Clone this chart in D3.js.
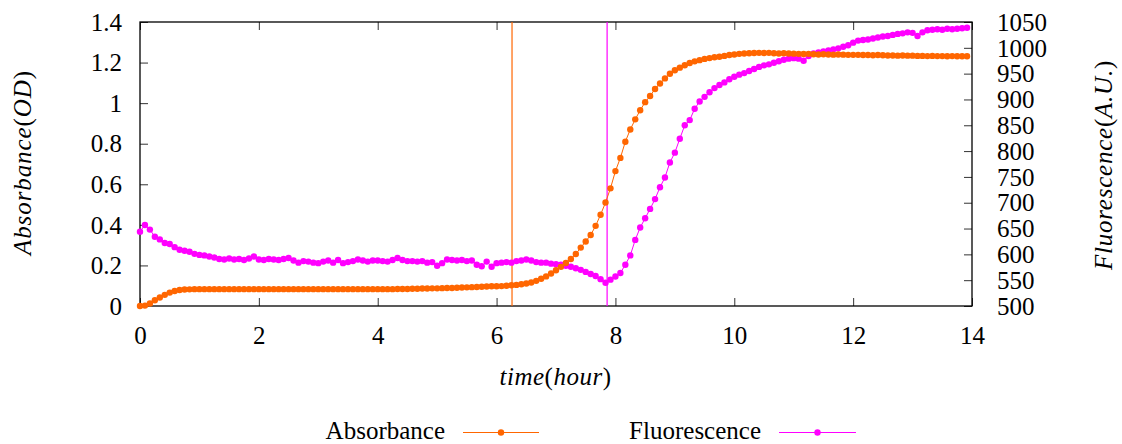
<!DOCTYPE html>
<html>
<head>
<meta charset="utf-8">
<script src="https://cdn.jsdelivr.net/npm/d3@7"></script>
<style>
html,body{margin:0;padding:0;background:#fff;}
svg text{font-family:"Liberation Serif","Times New Roman","DejaVu Serif",serif;fill:#000;}
</style>
</head>
<body>
<svg id="chart" width="1122" height="444"></svg>
<script>
// Sampling interval of the measurements (hours) — one reading every 5 minutes
const sampleStep = 5 / 60;

// Absorbance (OD), one value per sample starting at t = 0
const absorbance = [
  0.000,0.002,0.012,0.028,0.042,0.055,0.066,0.074,0.079,0.081,0.082,0.083,
  0.083,0.083,0.083,0.083,0.083,0.083,0.083,0.083,0.083,0.083,0.083,0.083,
  0.083,0.083,0.083,0.083,0.083,0.083,0.083,0.083,0.083,0.083,0.083,0.083,
  0.083,0.083,0.083,0.083,0.083,0.083,0.083,0.083,0.083,0.083,0.083,0.083,
  0.083,0.083,0.083,0.083,0.084,0.084,0.084,0.085,0.085,0.086,0.086,0.087,
  0.087,0.088,0.089,0.089,0.090,0.091,0.092,0.093,0.094,0.095,0.096,0.097,
  0.097,0.098,0.100,0.102,0.104,0.107,0.111,0.116,0.124,0.134,0.146,0.160,
  0.176,0.193,0.212,0.232,0.256,0.288,0.318,0.350,0.395,0.450,0.510,0.580,
  0.665,0.730,0.810,0.870,0.920,0.965,1.005,1.035,1.070,1.097,1.122,1.145,
  1.162,1.175,1.187,1.198,1.206,1.212,1.218,1.222,1.226,1.229,1.233,1.237,
  1.240,1.243,1.245,1.246,1.247,1.248,1.247,1.248,1.246,1.245,1.246,1.245,
  1.244,1.243,1.242,1.243,1.241,1.240,1.241,1.240,1.239,1.240,1.239,1.238,
  1.238,1.238,1.237,1.237,1.236,1.237,1.236,1.235,1.235,1.234,1.235,1.234,
  1.234,1.233,1.233,1.232,1.233,1.232,1.232,1.231,1.232,1.231,1.231,1.231
];

// Fluorescence (A.U.), one value per sample starting at t = 0
const fluorescence = [
  644,657,648,634,629,622,620,614,609,607,605,601,
  599,598,596,594,591,590,592,590,591,589,592,596,
  590,589,591,590,589,591,593,588,584,587,586,584,
  583,586,588,584,589,583,585,587,590,588,586,588,
  588,587,586,589,593,589,587,587,586,587,584,585,
  578,583,590,589,588,589,587,588,580,577,586,576,
  583,584,585,584,587,588,590,588,585,584,584,582,
  581,580,578,576,573,570,566,562,558,552,545,551,
  557,564,580,598,628,652,670,688,707,730,749,778,
  797,824,850,860,882,896,905,914,922,928,933,939,
  944,948,951,955,959,963,966,968,971,974,977,979,
  980,979,975,984,989,991,993,995,997,999,1002,1005,
  1010,1014,1015,1016,1018,1020,1022,1023,1025,1027,1028,1030,
  1029,1023,1030,1034,1035,1036,1035,1037,1036,1037,1038,1039
];

// Marker lines (hours)
const markerAbs = 6.26;
const markerFluo = 7.86;

// Axis ticks
const xTicks = [0, 2, 4, 6, 8, 10, 12, 14];
const yTicks = [0, 0.2, 0.4, 0.6, 0.8, 1, 1.2, 1.4];
const y2Ticks = [500, 550, 600, 650, 700, 750, 800, 850, 900, 950, 1000, 1050];

// Legend labels
const seriesNames = ["Absorbance", "Fluorescence"];

const colAbs = "#ff6600";
const colFluo = "#ff00ff";

const svg = d3.select("#chart");
const L = 140, R = 972, T = 22, B = 306;
const fs = 25;
const FONT = '"Liberation Serif","Times New Roman",serif';

const x = d3.scaleLinear().domain([0, 14]).range([L, R]);
const y = d3.scaleLinear().domain([0, 1.4]).range([B, T]);
const y2 = d3.scaleLinear().domain([500, 1050]).range([B, T]);

const absData = absorbance.map((v, i) => ({t: i * sampleStep, v}));
const fluoData = fluorescence.map((v, i) => ({t: i * sampleStep, v}));

// Axes (ticks inward, gnuplot style)
const tickLen = 8;
const fmt = d => String(d);
const gx = svg.append("g").attr("transform", `translate(0,${B})`)
  .call(d3.axisBottom(x).tickValues(xTicks).tickSizeInner(-tickLen).tickSizeOuter(0).tickFormat(fmt));
gx.selectAll(".tick text").attr("y", 38).attr("dy", 0);
const gxt = svg.append("g").attr("transform", `translate(0,${T})`)
  .call(d3.axisTop(x).tickValues(xTicks).tickSizeInner(-tickLen).tickSizeOuter(0).tickFormat(""));
const gy = svg.append("g").attr("transform", `translate(${L},0)`)
  .call(d3.axisLeft(y).tickValues(yTicks).tickSizeInner(-tickLen).tickSizeOuter(0).tickFormat(fmt));
gy.selectAll(".tick text").attr("x", -18).attr("dy", "0.33em");
const gy2 = svg.append("g").attr("transform", `translate(${R},0)`)
  .call(d3.axisRight(y2).tickValues(y2Ticks).tickSizeInner(-tickLen).tickSizeOuter(0).tickFormat(fmt));
gy2.selectAll(".tick text").attr("x", 25).attr("dy", "0.33em");
[gx, gxt, gy, gy2].forEach(g => {
  g.attr("font-family", FONT).attr("font-size", fs);
  g.select(".domain").remove();
  g.selectAll(".tick line").attr("stroke", "#333").attr("stroke-width", 1);
  g.selectAll("text").attr("font-size", fs).attr("font-family", FONT).attr("fill", "#000");
});

// Frame
svg.append("rect").attr("x", L).attr("y", T).attr("width", R - L).attr("height", B - T)
  .attr("fill", "none").attr("stroke", "#000").attr("stroke-width", 1.3);

// Marker lines
svg.append("line").attr("x1", x(markerAbs)).attr("x2", x(markerAbs)).attr("y1", T).attr("y2", B)
  .attr("stroke", colAbs).attr("stroke-width", 1.2);
svg.append("line").attr("x1", x(markerFluo)).attr("x2", x(markerFluo)).attr("y1", T).attr("y2", B)
  .attr("stroke", colFluo).attr("stroke-width", 1.2);

// Series
const lineAbs = d3.line().x(d => x(d.t)).y(d => y(d.v));
const lineFluo = d3.line().x(d => x(d.t)).y(d => y2(d.v));
const r = 3.2;

svg.append("path").datum(fluoData).attr("d", lineFluo).attr("fill", "none").attr("stroke", colFluo).attr("stroke-width", 1);
svg.append("g").selectAll("circle").data(fluoData).join("circle")
  .attr("cx", d => x(d.t)).attr("cy", d => y2(d.v)).attr("r", r).attr("fill", colFluo);

svg.append("path").datum(absData).attr("d", lineAbs).attr("fill", "none").attr("stroke", colAbs).attr("stroke-width", 1);
svg.append("g").selectAll("circle").data(absData).join("circle")
  .attr("cx", d => x(d.t)).attr("cy", d => y(d.v)).attr("r", r).attr("fill", colAbs);

// Axis titles (math style: italic letters, upright parentheses)
function mathLabel(sel, word, inner, targetLen) {
  sel.append("tspan").attr("font-style", "italic").text(word);
  sel.append("tspan").text("(");
  sel.append("tspan").attr("font-style", "italic").text(inner);
  sel.append("tspan").text(")");
  const natural = sel.node().getComputedTextLength();
  const n = (word + inner).length + 2;
  const ls = Math.max(0, (targetLen - natural) / n);
  sel.attr("letter-spacing", ls);
}
const tl = svg.append("text").attr("transform", "translate(31,162.5) rotate(-90)")
  .attr("text-anchor", "middle").attr("font-size", fs).attr("font-family", FONT);
mathLabel(tl, "Absorbance", "OD", 185);

const tr = svg.append("text").attr("transform", "translate(1112,165) rotate(-90)")
  .attr("text-anchor", "middle").attr("font-size", fs).attr("font-family", FONT);
mathLabel(tr, "Fluorescence", "A.U.", 210);

const tx = svg.append("text").attr("x", 555.5).attr("y", 385)
  .attr("text-anchor", "middle").attr("font-size", fs).attr("font-family", FONT);
mathLabel(tx, "time", "hour", 112);

// Legend
const legend = [
  {label: seriesNames[0], color: colAbs, tx: 445, lx1: 463, lx2: 539},
  {label: seriesNames[1], color: colFluo, tx: 761, lx1: 779, lx2: 856}
];
const lg = svg.append("g");
legend.forEach(d => {
  lg.append("text").attr("x", d.tx).attr("y", 438.5).attr("text-anchor", "end")
    .attr("font-size", fs).attr("font-family", FONT).text(d.label);
  lg.append("line").attr("x1", d.lx1).attr("x2", d.lx2).attr("y1", 432.5).attr("y2", 432.5)
    .attr("stroke", d.color).attr("stroke-width", 1.2);
  lg.append("circle").attr("cx", (d.lx1 + d.lx2) / 2).attr("cy", 432.5).attr("r", r).attr("fill", d.color);
});
</script>
</body>
</html>
